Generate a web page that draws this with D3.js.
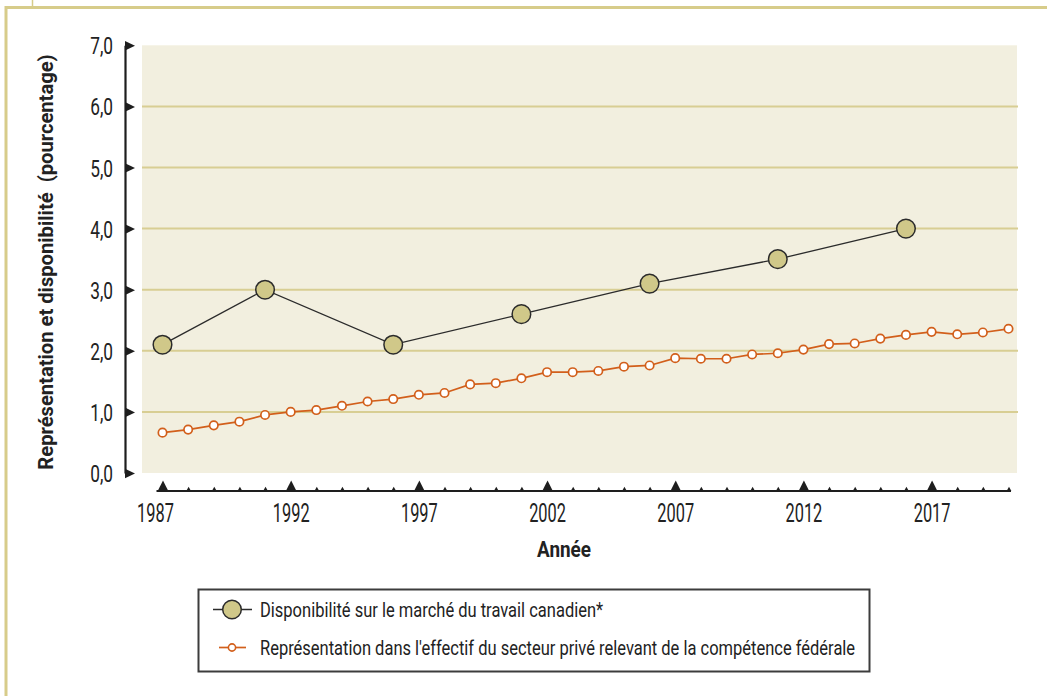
<!DOCTYPE html>
<html lang="fr">
<head>
<meta charset="utf-8">
<script src="https://cdn.jsdelivr.net/npm/d3@7"></script>
<style>
  html, body { margin: 0; padding: 0; background: #ffffff; }
  svg { display: block; font-family: Roboto, "Noto Sans", sans-serif; }
  text { white-space: pre; }
</style>
</head>
<body>
<svg id="chart" width="1047" height="696"></svg>
<script>
// Années couvertes par la série annuelle
const years = d3.range(1987, 2021);
// Années étiquetées sur l'axe horizontal
const majorYears = [1987, 1992, 1997, 2002, 2007, 2012, 2017];
// Graduations de l'axe vertical
const yTicks = [0, 1, 2, 3, 4, 5, 6, 7];

// Disponibilité sur le marché du travail canadien (années de recensement)
const availYears = [1987, 1991, 1996, 2001, 2006, 2011, 2016];
const availValues = [2.1, 3.0, 2.1, 2.6, 3.1, 3.5, 4.0];

// Représentation dans l'effectif du secteur privé de compétence fédérale
const reprValues = [
  0.66, 0.71, 0.78, 0.84, 0.95, 1.00, 1.03, 1.10, 1.17, 1.21,
  1.28, 1.31, 1.45, 1.47, 1.55, 1.65, 1.65, 1.67, 1.74, 1.76,
  1.88, 1.87, 1.87, 1.94, 1.96, 2.02, 2.11, 2.12, 2.20, 2.26,
  2.31, 2.27, 2.30, 2.36
];

const legendLabels = [
  "Disponibilité sur le marché du travail canadien*",
  "Représentation dans l'effectif du secteur privé relevant de la compétence fédérale"
];
const xTitle = "Année";
const yTitle = "Représentation et disponibilité  (pourcentage)";

const C = {
  frame: "#d7cc8a",
  plotBg: "#f2efdf",
  grid: "#d8ce93",
  axis: "#1e1e1e",
  availFill: "#d0c889",
  availStroke: "#2b2b2b",
  repr: "#d25f1b",
  legendBorder: "#3c3c3c",
  text: "#222222"
};

const svg = d3.select("#chart");

// Cadre décoratif
svg.append("rect").attr("x", 0).attr("y", 0).attr("width", 1047).attr("height", 696).attr("fill", "#ffffff");
svg.append("line").attr("x1", 5).attr("x2", 1047).attr("y1", 7.5).attr("y2", 7.5)
  .attr("stroke", C.frame).attr("stroke-width", 3);
svg.append("line").attr("x1", 6).attr("x2", 6).attr("y1", 6).attr("y2", 696)
  .attr("stroke", C.frame).attr("stroke-width", 3);
svg.append("line").attr("x1", 32.5).attr("x2", 32.5).attr("y1", 0).attr("y2", 7)
  .attr("stroke", C.frame).attr("stroke-width", 1.5);

// Zone de tracé
const plot = { left: 142, right: 1017, top: 45.3, bottom: 473 };
const x = d3.scaleLinear().domain([1987, 2020]).range([162.5, 1008.5]);
const y = d3.scaleLinear().domain([0, 7]).range([plot.bottom, plot.top]);

svg.append("rect")
  .attr("x", plot.left).attr("y", plot.top)
  .attr("width", plot.right - plot.left).attr("height", plot.bottom - plot.top)
  .attr("fill", C.plotBg);

svg.append("g").selectAll("line")
  .data(yTicks.filter(d => d > 0 && d < 7))
  .join("line")
  .attr("x1", plot.left).attr("x2", plot.right + 1)
  .attr("y1", d => y(d)).attr("y2", d => y(d))
  .attr("stroke", C.grid).attr("stroke-width", 2);

// Axe vertical : flèches triangulaires à chaque graduation
const yLabelScale = 0.72;
const yAxis = svg.append("g")
  .attr("transform", "translate(125,0)")
  .call(d3.axisLeft(y).tickValues(yTicks).tickSize(0).tickSizeOuter(0)
    .tickFormat(d => d.toFixed(1).replace(".", ",")));
yAxis.select(".domain").attr("stroke", C.axis).attr("stroke-width", 2.2);
yAxis.selectAll(".tick").append("path")
  .attr("d", "M0,-4.8L10,0L0,4.8Z").attr("fill", C.axis);
yAxis.selectAll(".tick text")
  .attr("x", 0).attr("dy", "0.355em")
  .attr("transform", `translate(-12,0) scale(${yLabelScale},1)`)
  .attr("font-size", 24).attr("font-family", "Roboto").attr("fill", C.text)
  .attr("text-anchor", "end");

// Axe horizontal : grands triangles aux années étiquetées, petits ailleurs
const xLabelScale = 0.63;
const axisY = 491;
const xAxis = svg.append("g")
  .attr("transform", `translate(0,${axisY})`)
  .call(d3.axisBottom(x).tickValues(years).tickSize(0).tickSizeOuter(0)
    .tickFormat(d => majorYears.includes(d) ? String(d) : ""));
xAxis.select(".domain").remove();
xAxis.append("line")
  .attr("x1", x(years[0]) - 6).attr("x2", x(years[years.length - 1]) + 2.5)
  .attr("y1", 0).attr("y2", 0)
  .attr("stroke", C.axis).attr("stroke-width", 1.8);
xAxis.selectAll(".tick").append("path")
  .attr("d", d => majorYears.includes(d) ? "M-5.3,0L0,-10.5L5.3,0Z" : "M-2.4,0L0,-4.2L2.4,0Z")
  .attr("fill", C.axis);
xAxis.selectAll(".tick text")
  .attr("y", 0).attr("dy", 0)
  .attr("transform", (d, i) => `translate(${i === 0 ? -7.5 : 0},31) scale(${xLabelScale},1)`)
  .attr("font-size", 26).attr("font-family", "Roboto").attr("fill", C.text);

// Titres des axes
svg.append("text")
  .attr("transform", "translate(564,557) scale(0.86,1)")
  .attr("text-anchor", "middle")
  .attr("font-size", 22).attr("font-weight", 700).attr("fill", C.text)
  .text(xTitle);
svg.append("text")
  .attr("transform", "translate(53,262) rotate(-90) scale(0.96,1)")
  .attr("text-anchor", "middle")
  .attr("font-size", 21).attr("font-weight", 700).attr("fill", C.text)
  .text(yTitle);

// Série représentation (points annuels)
const reprData = years.map((yr, i) => ({ year: yr, value: reprValues[i] }));
const line = d3.line().x(d => x(d.year)).y(d => y(d.value));
svg.append("path").datum(reprData)
  .attr("d", line).attr("fill", "none")
  .attr("stroke", C.repr).attr("stroke-width", 1.7);
svg.append("g").selectAll("circle").data(reprData).join("circle")
  .attr("cx", d => x(d.year)).attr("cy", d => y(d.value)).attr("r", 4.2)
  .attr("fill", "#ffffff").attr("stroke", C.repr).attr("stroke-width", 1.7);

// Série disponibilité
const availData = availYears.map((yr, i) => ({ year: yr, value: availValues[i] }));
svg.append("path").datum(availData)
  .attr("d", line).attr("fill", "none")
  .attr("stroke", C.availStroke).attr("stroke-width", 1.3);
svg.append("g").selectAll("circle").data(availData).join("circle")
  .attr("cx", d => x(d.year)).attr("cy", d => y(d.value)).attr("r", 9.3)
  .attr("fill", C.availFill).attr("stroke", C.availStroke).attr("stroke-width", 1.5);

// Légende
const legend = svg.append("g");
legend.append("rect")
  .attr("x", 198.5).attr("y", 589.5).attr("width", 671).attr("height", 82)
  .attr("fill", "none").attr("stroke", C.legendBorder).attr("stroke-width", 2);

const row1 = 609.5, row2 = 647.5;
legend.append("line").attr("x1", 213).attr("x2", 252).attr("y1", row1).attr("y2", row1)
  .attr("stroke", C.availStroke).attr("stroke-width", 1.3);
legend.append("circle").attr("cx", 232).attr("cy", row1).attr("r", 9.3)
  .attr("fill", C.availFill).attr("stroke", C.availStroke).attr("stroke-width", 1.5);
legend.append("line").attr("x1", 219).attr("x2", 246).attr("y1", row2).attr("y2", row2)
  .attr("stroke", C.repr).attr("stroke-width", 1.7);
legend.append("circle").attr("cx", 232).attr("cy", row2).attr("r", 3.6)
  .attr("fill", "#ffffff").attr("stroke", C.repr).attr("stroke-width", 1.6);

legend.selectAll("text.lab").data(legendLabels).join("text")
  .attr("class", "lab")
  .attr("transform", (d, i) => `translate(260,${(i === 0 ? row1 : row2) + 7}) scale(0.825,1)`)
  .attr("font-size", 20).attr("fill", C.text)
  .text(d => d);
</script>
</body>
</html>
